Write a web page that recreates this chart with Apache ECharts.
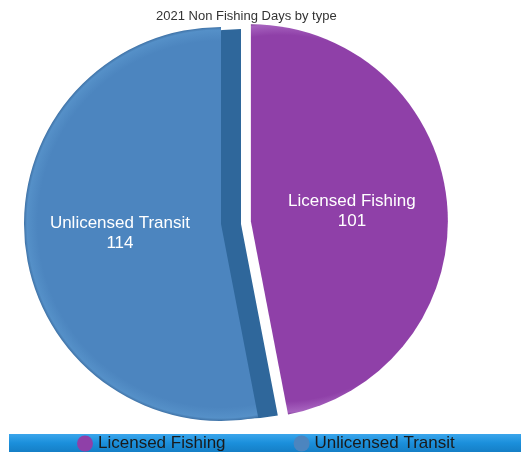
<!DOCTYPE html>
<html>
<head>
<meta charset="utf-8">
<script src="https://cdn.jsdelivr.net/npm/echarts@6/dist/echarts.min.js"></script>
<style>
  html, body { margin: 0; padding: 0; background: #ffffff; }
  #chart { width: 521px; height: 454px; }
</style>
</head>
<body>
<div id="chart"></div>
<script>
// Non fishing days in 2021, split by type
const categories = ['Licensed Fishing', 'Unlicensed Transit'];
const days = [101, 114];
const faceColors = ['#8f40a8', '#4c85bf'];
const rimColors = ['#a763bf', '#5590c8'];
const edgeColors = ['#72318a', '#3f72a6'];
const sideColor = '#2f679b';

const FONT = '"Liberation Sans", Arial, sans-serif';

const CX = 221, CY = 224, R = 197, OFFSET = 30;

// shading over the whole disc (absolute coordinates)
function shaded(i, cx, cy) {
  return {
    type: 'radial', x: cx, y: cy, r: R, global: true,
    colorStops: [
      { offset: 0, color: faceColors[i] },
      { offset: 0.93, color: faceColors[i] },
      { offset: 0.985, color: rimColors[i] },
      { offset: 1, color: edgeColors[i] }
    ]
  };
}

const total = days.reduce((a, b) => a + b, 0);
const midAngle0 = (days[0] / total) * Math.PI; // clockwise from top
const purpleCx = CX + OFFSET * Math.sin(midAngle0);
const purpleCy = CY - OFFSET * Math.cos(midAngle0);

const frontData = categories.map((name, i) => ({
  name: name,
  value: days[i],
  selected: i === 0,
  itemStyle: { color: i === 0 ? shaded(0, purpleCx, purpleCy) : shaded(1, CX, CY) }
}));

const sideData = categories.map((name, i) => ({
  name: name,
  value: days[i],
  itemStyle: { color: i === 0 ? 'rgba(0,0,0,0)' : sideColor }
}));

const chart = echarts.init(document.getElementById('chart'), null, { renderer: 'canvas' });

chart.setOption({
  backgroundColor: '#ffffff',
  animation: false,
  title: {
    text: '2021 Non Fishing Days by type',
    left: 151,
    top: 5,
    textStyle: { fontFamily: FONT, fontSize: 13, fontWeight: 'normal', color: '#333333' }
  },
  graphic: [{
    type: 'rect',
    shape: { x: 9, y: 434, width: 512, height: 18 },
    style: {
      fill: {
        type: 'linear', x: 0, y: 0, x2: 0, y2: 1,
        colorStops: [
          { offset: 0, color: '#3aa6ec' },
          { offset: 0.5, color: '#1b8fdb' },
          { offset: 1, color: '#157fc6' }
        ]
      }
    },
    z: -1
  }],
  legend: {
    top: 434,
    left: 72,
    itemGap: 68,
    itemWidth: 16,
    itemHeight: 16,
    padding: [1, 5, 1, 5],
    icon: 'circle',
    textStyle: { fontFamily: FONT, fontSize: 17, color: '#1a1a1a' },
    data: categories.map((name, i) => ({ name: name, itemStyle: { color: faceColors[i] } })),
    selectedMode: false
  },
  series: [
    {
      // darker side face of the transit slice
      type: 'pie',
      silent: true,
      z: 1,
      center: [CX + 20, CY],
      radius: R - 2,
      startAngle: 90,
      clockwise: true,
      label: { show: false },
      labelLine: { show: false },
      emphasis: { disabled: true },
      data: sideData
    },
    {
      type: 'pie',
      z: 2,
      center: [CX, CY],
      radius: R,
      startAngle: 90,
      clockwise: true,
      selectedMode: 'single',
      selectedOffset: OFFSET,
      emphasis: { disabled: true },
      label: {
        show: true,
        position: 'inside',
        formatter: '{b}\n{c}',
        fontFamily: FONT,
        fontSize: 17,
        lineHeight: 20,
        color: '#ffffff'
      },
      labelLine: { show: false },
      data: frontData
    }
  ]
});
</script>
</body>
</html>
